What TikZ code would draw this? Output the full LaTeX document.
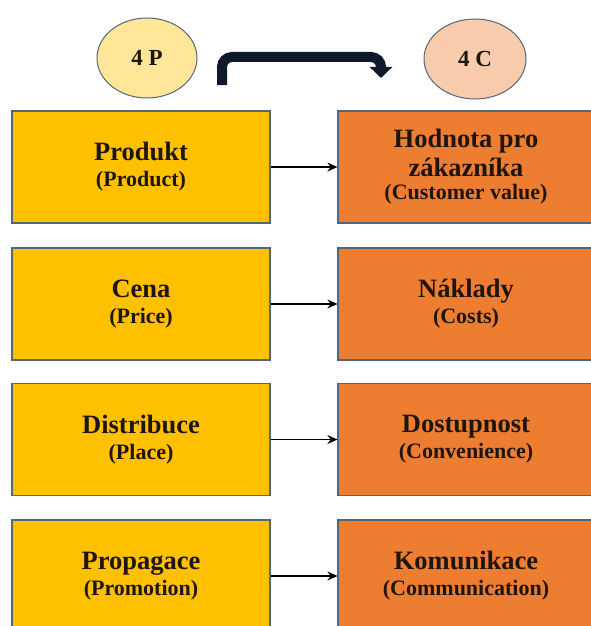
\documentclass[tikz,border=0pt]{standalone}
\usepackage{fontspec}
\setmainfont{Liberation Serif}
\usetikzlibrary{shapes.geometric,arrows.meta}
\definecolor{pgold}{RGB}{255,192,0}
\definecolor{corange}{RGB}{237,125,49}
\definecolor{pgoldlight}{RGB}{255,230,153}
\definecolor{corangelight}{RGB}{248,203,173}
\definecolor{edgegray}{RGB}{84,102,122}
\definecolor{inkdark}{RGB}{30,22,14}
\definecolor{bendnavy}{RGB}{16,24,44}
\newcommand{\sublabel}[1]{{\fontsize{22}{25}\selectfont #1}}
\tikzset{
  pbox/.style={rectangle, draw=edgegray, line width=1.2pt, fill=pgold,
    minimum width=258pt, minimum height=112pt, align=center, text=inkdark,
    font=\bfseries\fontsize{26.5}{29}\selectfont},
  cbox/.style={pbox, fill=corange, minimum width=256pt},
  tag/.style={ellipse, draw=edgegray, line width=1pt, minimum width=100pt,
    minimum height=80pt, text=inkdark, font=\bfseries\fontsize{23}{26}\selectfont},
  conn/.style={line width=1.6pt, -{Stealth[length=10pt,width=9pt]}},
  bendarrow/.style={bendnavy, line width=10pt, rounded corners=10pt,
    -{Triangle[length=11pt,width=22pt]}}
}

\begin{document}
\begin{tikzpicture}[x=1pt,y=-1pt]
\useasboundingbox (0,0) rectangle (591,626);
\clip (0,0) rectangle (591,626);
% headers
\node[tag, fill=pgoldlight] (fourp) at (147,58) {4 P};
\node[tag, fill=corangelight, minimum width=102pt] (fourc) at (475,59) {4 C};
\coordinate (bendfrom) at (222,85);
\coordinate (bendto) at (381,78);
\draw[bendarrow] (bendfrom) -- (222,57) -- (381,57) -- (bendto);
% 4 P column
\node[pbox] (produkt) at (141,167) {Produkt\\[-3pt]\sublabel{(Product)}};
\node[pbox] (cena) at (141,304) {Cena\\[-3pt]\sublabel{(Price)}};
\node[pbox] (distribuce) at (141,439.5) {Distribuce\\[-3pt]\sublabel{(Place)}};
\node[pbox] (propagace) at (141,576) {Propagace\\[-3pt]\sublabel{(Promotion)}};
% 4 C column
\node[cbox] (hodnota) at (466,167) {Hodnota pro\\zákazníka\\[-6pt]\sublabel{(Customer value)}};
\node[cbox] (naklady) at (466,304) {Náklady\\[-3pt]\sublabel{(Costs)}};
\node[cbox] (dostupnost) at (466,439.5) {Dostupnost\\[-3pt]\sublabel{(Convenience)}};
\node[cbox] (komunikace) at (466,576) {Komunikace\\[-3pt]\sublabel{(Communication)}};
% links
\draw[conn] (produkt) -- (hodnota);
\draw[conn] (cena) -- (naklady);
\draw[conn] (distribuce) -- (dostupnost);
\draw[conn] (propagace) -- (komunikace);
\end{tikzpicture}
\end{document}
